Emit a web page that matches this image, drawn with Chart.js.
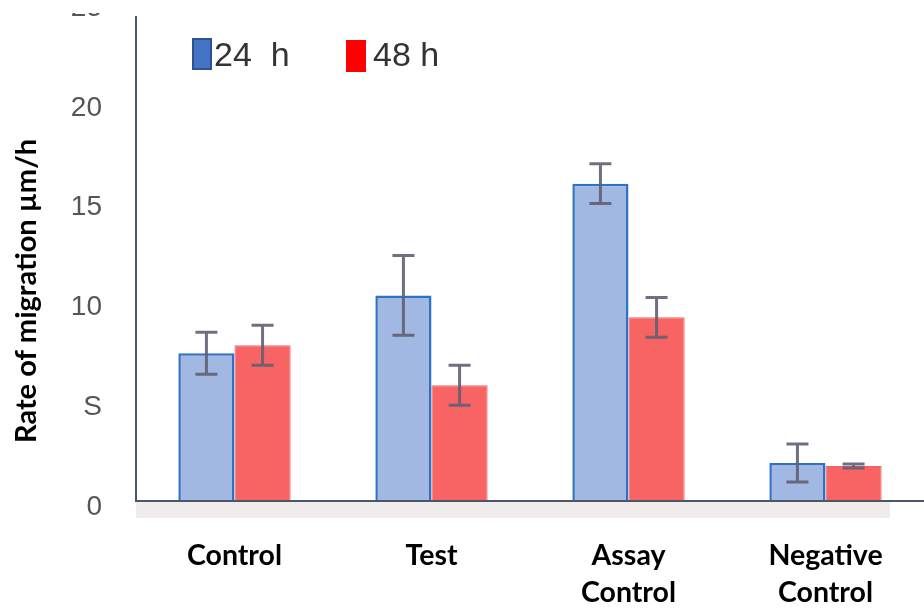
<!DOCTYPE html>
<html>
<head>
<meta charset="utf-8">
<script src="https://cdn.jsdelivr.net/npm/chart.js@4.4.1/dist/chart.umd.min.js"></script>
<style>
  html, body { margin: 0; padding: 0; background: #fff; overflow: hidden; }
  #wrap { position: absolute; left: 0; top: -30px; width: 924px; height: 640px; }
</style>
</head>
<body>
<div id="wrap"><canvas id="chartRate"></canvas></div>
<script>
const categories = [["Control"], ["Test"], ["Assay", "Control"], ["Negative", "Control"]];
const seriesNames = ["24  h", "48 h"];
const rate24 = [7.4, 10.3, 15.9, 1.9];
const err24 = [1.05, 2.0, 1.0, 0.95];
const rate48 = [7.8, 5.8, 9.2, 1.75];
const err48 = [1.0, 1.0, 1.0, 0.1];
const yTicks = [0, 5, 10, 15, 20, 25];
const yTickText = ["0", "S", "10", "15", "20", "25"];

const axisColor = "#4b5668";

// error bars, axis band, y title and legend drawn on the canvas
const extras = {
    id: "extras",
    beforeDatasetsDraw(chart) {
        const { ctx, chartArea } = chart;
        ctx.save();
        // light band under the x axis
        ctx.fillStyle = "#f0ecec";
        ctx.fillRect(chartArea.left, chartArea.bottom + 1, chartArea.right - chartArea.left - 34, 16);
        ctx.restore();
    },
    afterDatasetsDraw(chart) {
        const { ctx, chartArea } = chart;
        const y = chart.scales.y;
        const errs = [err24, err48];
        const vals = [rate24, rate48];
        ctx.save();
        ctx.strokeStyle = "rgba(95,95,115,0.9)";
        ctx.lineWidth = 3;
        errs.forEach((errList, d) => {
            const meta = chart.getDatasetMeta(d);
            meta.data.forEach((bar, i) => {
                const top = y.getPixelForValue(vals[d][i] + errList[i]);
                const bot = y.getPixelForValue(vals[d][i] - errList[i]);
                ctx.beginPath();
                ctx.moveTo(bar.x, top); ctx.lineTo(bar.x, bot);
                ctx.moveTo(bar.x - 11, top); ctx.lineTo(bar.x + 11, top);
                ctx.moveTo(bar.x - 11, bot); ctx.lineTo(bar.x + 11, bot);
                ctx.stroke();
            });
        });

        // axes
        ctx.strokeStyle = axisColor;
        ctx.lineWidth = 2;
        ctx.beginPath();
        ctx.moveTo(chartArea.left, chartArea.top + 14);
        ctx.lineTo(chartArea.left, chartArea.bottom);
        ctx.lineTo(chartArea.right, chartArea.bottom);
        ctx.stroke();

        // y title
        ctx.fillStyle = "#000";
        ctx.font = "bold 29px Lato";
        ctx.textAlign = "center";
        ctx.textBaseline = "middle";
        ctx.translate(27, chartArea.top + 289);
        ctx.rotate(-Math.PI / 2);
        ctx.fillText("Rate of migration \u00b5m/h", 0, 0);
        ctx.restore();

        // legend
        ctx.save();
        const lx = chartArea.left;
        const ly = chartArea.top;
        ctx.font = "34px 'Liberation Sans'";
        ctx.textBaseline = "middle";
        ctx.textAlign = "left";
        chart.data.datasets.forEach((ds, d) => {
            const bx = lx + (d === 0 ? 56 : 210);
            const by = ly + (d === 0 ? 36 : 38);
            ctx.fillStyle = d === 0 ? "#4472c4" : "#ff0000";
            ctx.fillRect(bx, by, 20, 32);
            if (d === 0) {
                ctx.strokeStyle = "#2f528f";
                ctx.lineWidth = 2;
                ctx.strokeRect(bx + 1, by + 1, 18, 30);
            }
            ctx.fillStyle = "#333";
            ctx.fillText(ds.label, bx + (d === 0 ? 22 : 27), ly + 55);
        });
        ctx.restore();
    },
    afterDraw(chart) {
        // the top tick label is cut off in the original figure
        const { ctx, chartArea } = chart;
        ctx.save();
        ctx.fillStyle = "#fff";
        ctx.fillRect(0, 0, chartArea.left - 12, chartArea.top + 11);
        ctx.restore();
    }
};

new Chart(document.getElementById("chartRate"), {
    type: "bar",
    data: {
        labels: categories,
        datasets: [
            {
                label: seriesNames[0],
                data: rate24,
                backgroundColor: "rgba(160,184,226,1)",
                borderColor: "#2f72c2",
                borderWidth: 2.5
            },
            {
                label: seriesNames[1],
                data: rate48,
                backgroundColor: "rgba(248,100,100,1)",
                borderColor: "rgba(235,60,60,0.8)",
                borderWidth: 1
            }
        ]
    },
    options: {
        responsive: true,
        maintainAspectRatio: false,
        animation: false,
        layout: { padding: { top: 32, right: 0, left: 0, bottom: 0 } },
        plugins: { legend: { display: false }, tooltip: { enabled: false } },
        datasets: { bar: { categoryPercentage: 0.57, barPercentage: 1 } },
        scales: {
            x: {
                grid: { display: false, drawTicks: false },
                border: { display: false },
                afterFit: scale => { scale.height = 109; },
                ticks: {
                    color: "#000",
                    font: { family: "Lato", weight: "bold", size: 28.5, lineHeight: 1.3 },
                    padding: 36,
                    maxRotation: 0
                }
            },
            y: {
                min: 0,
                max: 25,
                grid: { display: false, drawTicks: false },
                border: { display: false },
                afterBuildTicks: scale => { scale.ticks = yTicks.map(v => ({ value: v })); },
                afterFit: scale => {
                    scale.width = 136;
                    scale.paddingTop = 0;
                    scale.paddingBottom = 0;
                },
                ticks: {
                    color: "#555",
                    font: { family: "Liberation Sans", size: 28 },
                    padding: 34,
                    labelOffset: 6,
                    callback: v => yTickText[yTicks.indexOf(v)]
                }
            }
        }
    },
    plugins: [extras]
});
</script>
</body>
</html>
